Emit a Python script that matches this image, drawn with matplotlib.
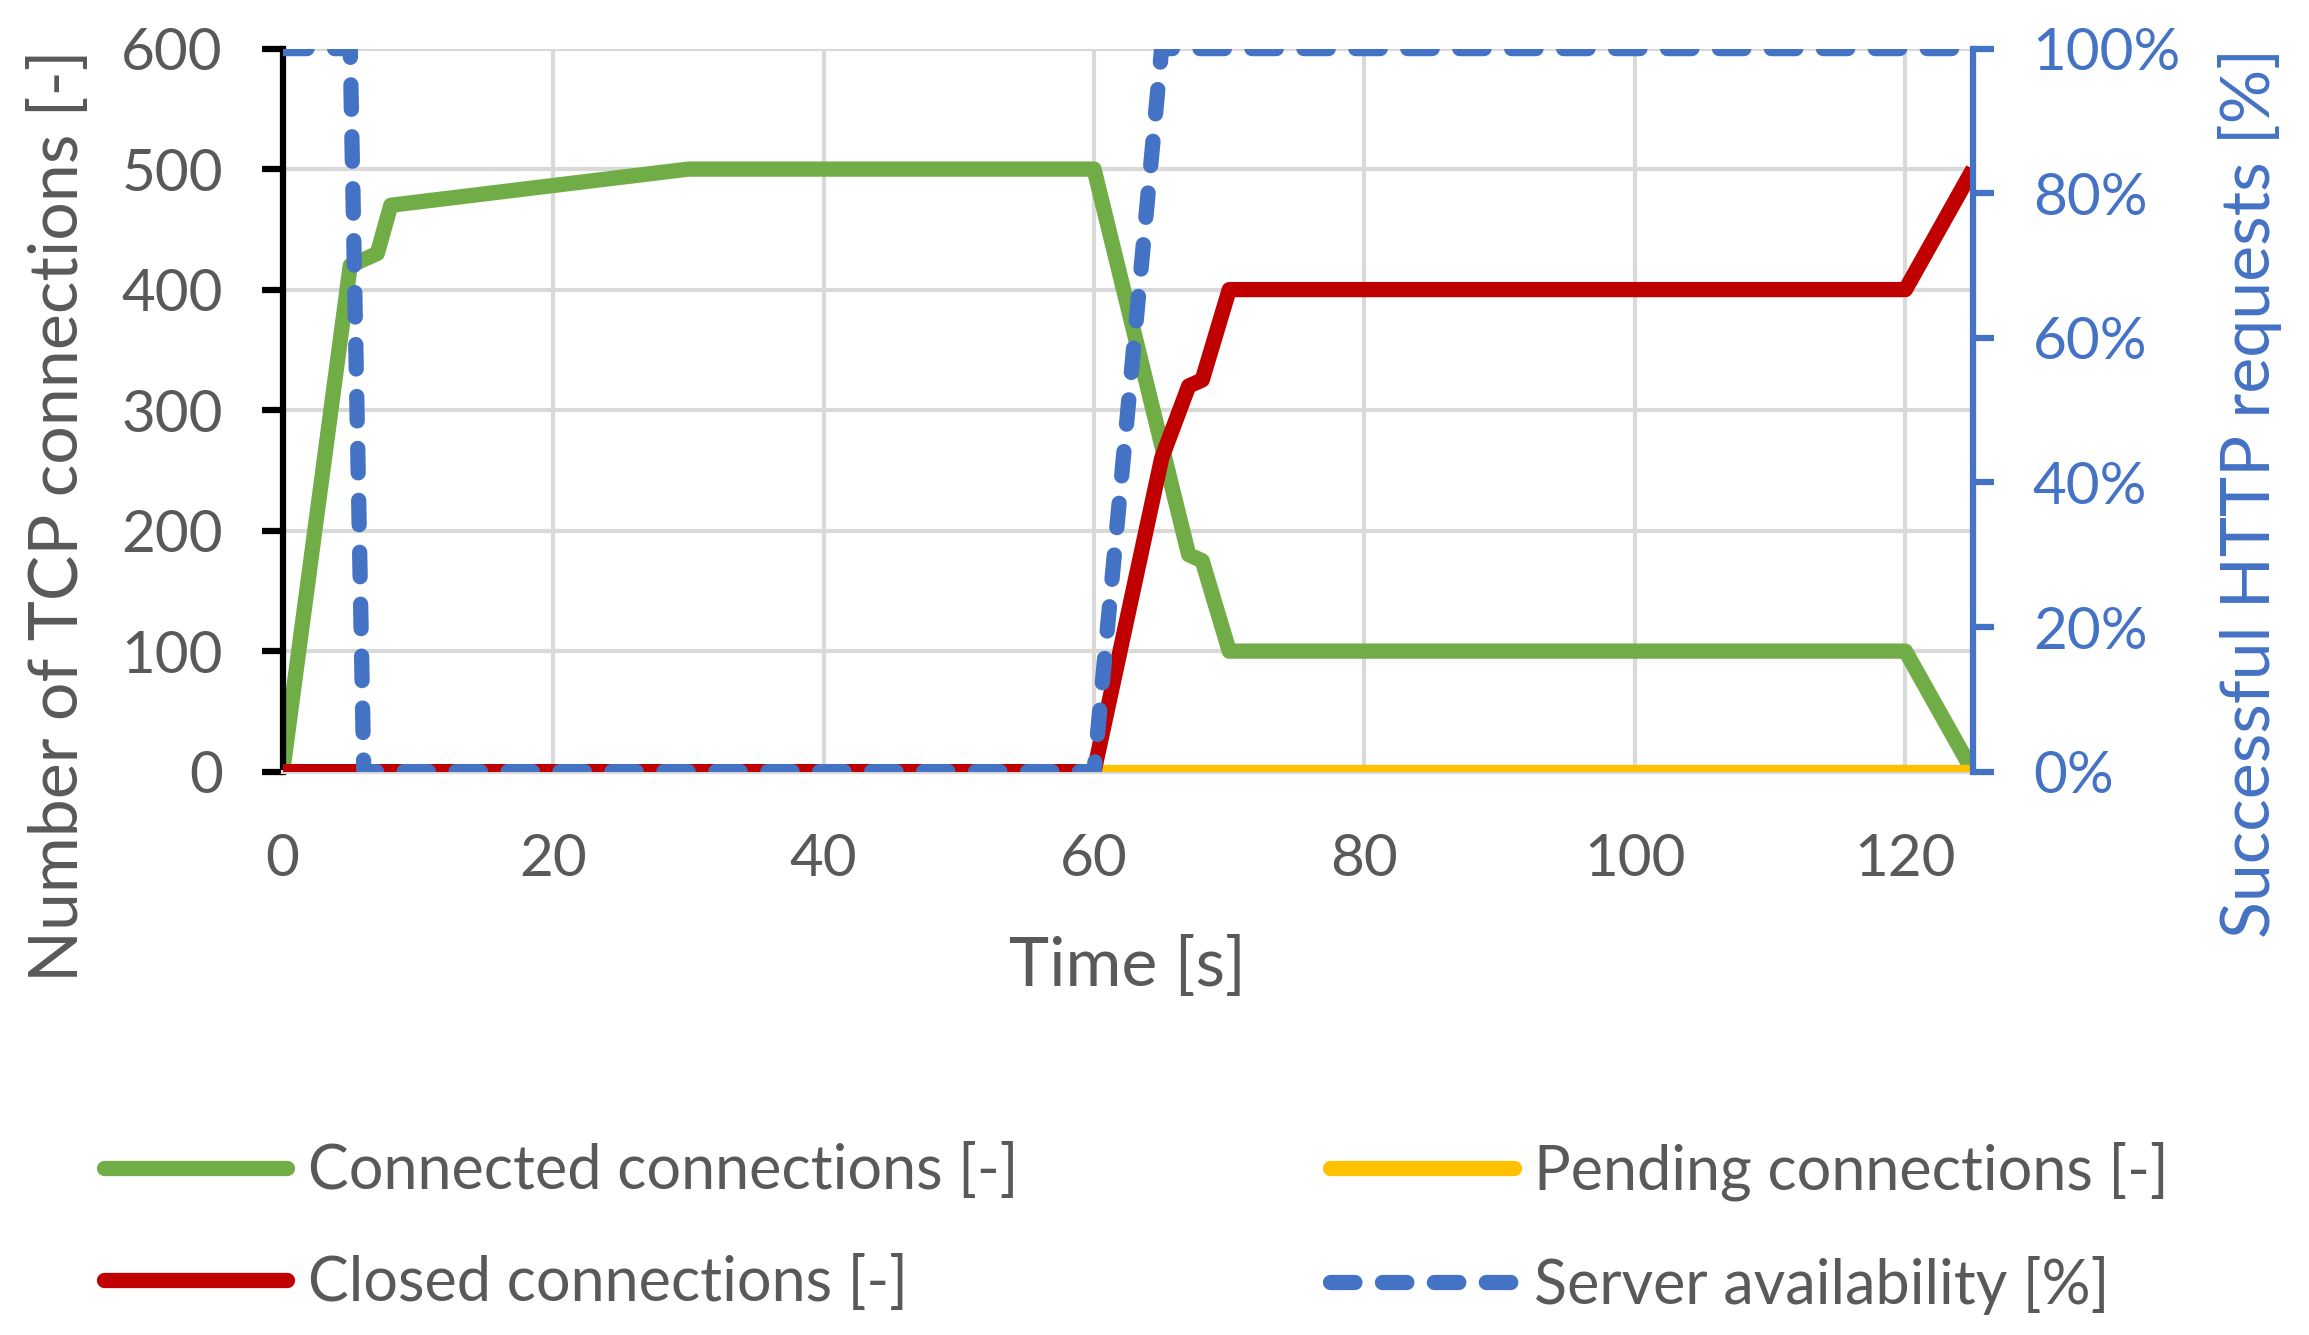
import matplotlib
matplotlib.use('Agg')
import matplotlib.pyplot as plt
from matplotlib.ticker import FuncFormatter

plt.rcParams['font.family'] = ['Lato', 'DejaVu Sans']

# data
time = [0, 5, 6, 7, 8, 30, 60, 65, 67, 68, 70, 120, 125]
connected = [0, 420, 425, 430, 470, 500, 500, 271, 180, 175, 100, 100, 0]
pending = [0, 0, 0, 0, 0, 0, 0, 0, 0, 0, 0, 0, 0]
closed = [0, 0, 0, 0, 0, 0, 0, 260, 320, 325, 400, 400, 500]
availability = [100, 100, 0, 0, 0, 0, 0, 100, 100, 100, 100, 100, 100]

x_ticks = [0, 20, 40, 60, 80, 100, 120]
left_ticks = [0, 100, 200, 300, 400, 500, 600]
right_ticks = [0, 20, 40, 60, 80, 100]

GREEN = '#70AD47'
YELLOW = '#FFC000'
RED = '#C00000'
BLUE = '#4472C4'
TEXT = '#595959'
GRID = '#D9D9D9'
FS = 42       # tick labels
FS_TITLE = 49  # axis titles
FS_LEG = 44   # legend

fig = plt.figure(figsize=(23.09, 13.35), dpi=100)
ax = fig.add_axes([0.1224, 0.4220, 0.8545 - 0.1224, 0.9636 - 0.4220])
ax2 = ax.twinx()

lw = 11
l1, = ax.plot(time, connected, color=GREEN, lw=lw, solid_capstyle='butt', zorder=2,
              label='Connected connections [-]')
l2, = ax.plot(time, pending, color=YELLOW, lw=lw, solid_capstyle='butt', zorder=3,
              label='Pending connections [-]')
l3, = ax.plot(time, closed, color=RED, lw=lw, solid_capstyle='butt', zorder=4,
              label='Closed connections [-]')
l4, = ax2.plot(time, availability, color=BLUE, lw=lw, dashes=(1.6, 1.8),
               dash_capstyle='round', zorder=5, label='Server availability [%]')

ax.set_xlim(0, 125)
ax.set_ylim(0, 600)
ax2.set_ylim(0, 100)
ax.set_xticks(x_ticks)
ax.set_yticks(left_ticks)
ax2.set_yticks(right_ticks)
ax2.yaxis.set_major_formatter(FuncFormatter(lambda v, p: f'{v:.0f}%'))

ax.grid(True, color=GRID, lw=3)
ax.set_axisbelow(True)

for a in (ax, ax2):
    for s in a.spines.values():
        s.set_visible(False)
ax.spines['left'].set_visible(True)
ax.spines['left'].set_color('black')
ax.spines['left'].set_linewidth(4.5)
ax.spines['bottom'].set_visible(True)
ax.spines['bottom'].set_color(GRID)
ax.spines['bottom'].set_linewidth(3)
ax2.spines['right'].set_visible(True)
ax2.spines['right'].set_color(BLUE)
ax2.spines['right'].set_linewidth(4.5)

ax.tick_params(axis='x', length=0, pad=44, labelsize=FS, labelcolor=TEXT)
ax.tick_params(axis='y', length=15, width=4.5, color='black', pad=28,
               labelsize=FS, labelcolor=TEXT)
ax2.tick_params(axis='y', length=15, width=4.5, color=BLUE, pad=28,
                labelsize=FS, labelcolor=BLUE)

ax.set_xlabel('Time [s]', fontsize=FS_TITLE, color=TEXT)
ax.xaxis.label.set_va('center')
ax.xaxis.set_label_coords(0.5, -0.270)
ax.set_ylabel('Number of TCP connections [-]', fontsize=FS_TITLE, color=TEXT)
ax.yaxis.label.set_va('center')
ax.yaxis.set_label_coords(-0.1323, 0.354)
ax2.set_ylabel('Successful HTTP requests [%]', fontsize=FS_TITLE, color=BLUE, rotation=90)
ax2.yaxis.label.set_va('center')
ax2.yaxis.set_label_coords(1.1639, 0.386)

leg = fig.legend(handles=[l1, l3, l2, l4], ncol=2, loc='upper left',
                 bbox_to_anchor=(0.045, 0.1453), frameon=False, fontsize=FS_LEG,
                 handlelength=3.0, handletextpad=0.34, columnspacing=5.1,
                 labelspacing=0.9, borderpad=0, borderaxespad=0)
for t in leg.get_texts():
    t.set_color(TEXT)
for h in leg.legend_handles:
    h.set_solid_capstyle('round')

fig.savefig('out.png', dpi=100)
